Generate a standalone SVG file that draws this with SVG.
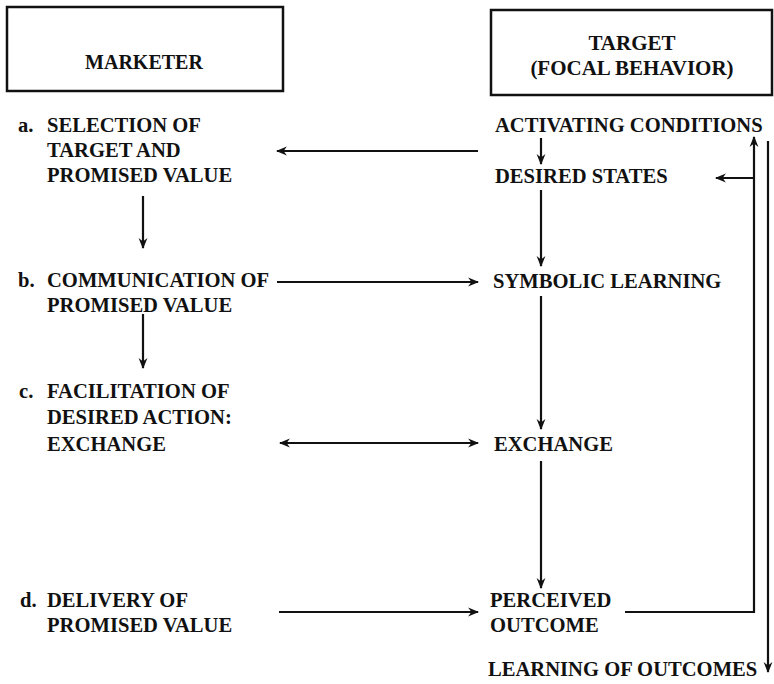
<svg xmlns="http://www.w3.org/2000/svg" width="774" height="684" viewBox="0 0 774 684">
  <style>
    text { font-family: "Liberation Serif", "Times New Roman", serif; font-weight: bold; font-size: 20.6px; fill: #111; }
    .mid { text-anchor: middle; }
    .hdr { font-size: 20px; }
    .hdr2 { font-size: 21px; }
    .box { fill: none; stroke: #111; stroke-width: 2.5; }
    .conn line, .conn polyline { stroke: #111; stroke-width: 2.2; fill: none; }
  </style>
  <defs>
    <marker id="head" viewBox="0 0 10 10" refX="9" refY="5" markerWidth="11" markerHeight="11" markerUnits="userSpaceOnUse" orient="auto-start-reverse">
      <path d="M0,1 L10,5 L0,9 L3,5 Z" fill="#111"/>
    </marker>
  </defs>
  <rect width="774" height="684" fill="#fff"/>

  <!-- header boxes -->
  <g id="marketer">
    <rect class="box" x="7" y="7" width="276" height="84"/>
    <text class="mid hdr" x="144" y="69">MARKETER</text>
  </g>
  <g id="target">
    <rect class="box" x="491" y="10" width="281" height="85"/>
    <text class="mid hdr2" x="632" y="50">TARGET</text>
    <text class="mid hdr2" x="632" y="75">(FOCAL BEHAVIOR)</text>
  </g>

  <!-- marketer steps -->
  <g id="step-a">
    <text x="18" y="132">a.</text>
    <text x="47" y="132">SELECTION OF</text>
    <text x="47" y="157">TARGET AND</text>
    <text x="47" y="182">PROMISED VALUE</text>
  </g>
  <g id="step-b">
    <text x="18" y="287">b.</text>
    <text x="47" y="287">COMMUNICATION OF</text>
    <text x="47" y="312">PROMISED VALUE</text>
  </g>
  <g id="step-c">
    <text x="19" y="398">c.</text>
    <text x="47" y="398">FACILITATION OF</text>
    <text x="47" y="424">DESIRED ACTION:</text>
    <text x="47" y="451">EXCHANGE</text>
  </g>
  <g id="step-d">
    <text x="20" y="607">d.</text>
    <text x="47" y="607">DELIVERY OF</text>
    <text x="47" y="632">PROMISED VALUE</text>
  </g>

  <!-- target behaviour stages -->
  <g id="activating"><text x="495" y="132">ACTIVATING CONDITIONS</text></g>
  <g id="desired"><text x="495" y="183">DESIRED STATES</text></g>
  <g id="symbolic"><text x="493" y="288">SYMBOLIC LEARNING</text></g>
  <g id="exchange"><text x="494" y="451">EXCHANGE</text></g>
  <g id="perceived">
    <text x="490" y="607">PERCEIVED</text>
    <text x="490" y="632">OUTCOME</text>
  </g>
  <g id="learning"><text x="488" y="676">LEARNING OF OUTCOMES</text></g>

  <!-- connectors -->
  <g id="connectors" class="conn">
    <line x1="478" y1="151" x2="277" y2="151" marker-end="url(#head)"/>
    <line x1="143" y1="196" x2="143" y2="248" marker-end="url(#head)"/>
    <line x1="143" y1="314" x2="143" y2="368" marker-end="url(#head)"/>
    <line x1="277" y1="282" x2="478" y2="282" marker-end="url(#head)"/>
    <line x1="280" y1="443" x2="478" y2="443" marker-start="url(#head)" marker-end="url(#head)"/>
    <line x1="279" y1="612" x2="478" y2="612" marker-end="url(#head)"/>
    <line x1="541" y1="138" x2="541" y2="164" marker-end="url(#head)"/>
    <line x1="541" y1="190" x2="541" y2="266" marker-end="url(#head)"/>
    <line x1="541" y1="296" x2="541" y2="429" marker-end="url(#head)"/>
    <line x1="541" y1="461" x2="541" y2="588" marker-end="url(#head)"/>
    <polyline points="625,612 754,612 754,137" marker-end="url(#head)"/>
    <line x1="754" y1="178" x2="716" y2="178" marker-end="url(#head)"/>
    <line x1="768" y1="141" x2="768" y2="672" marker-end="url(#head)"/>
  </g>
</svg>
